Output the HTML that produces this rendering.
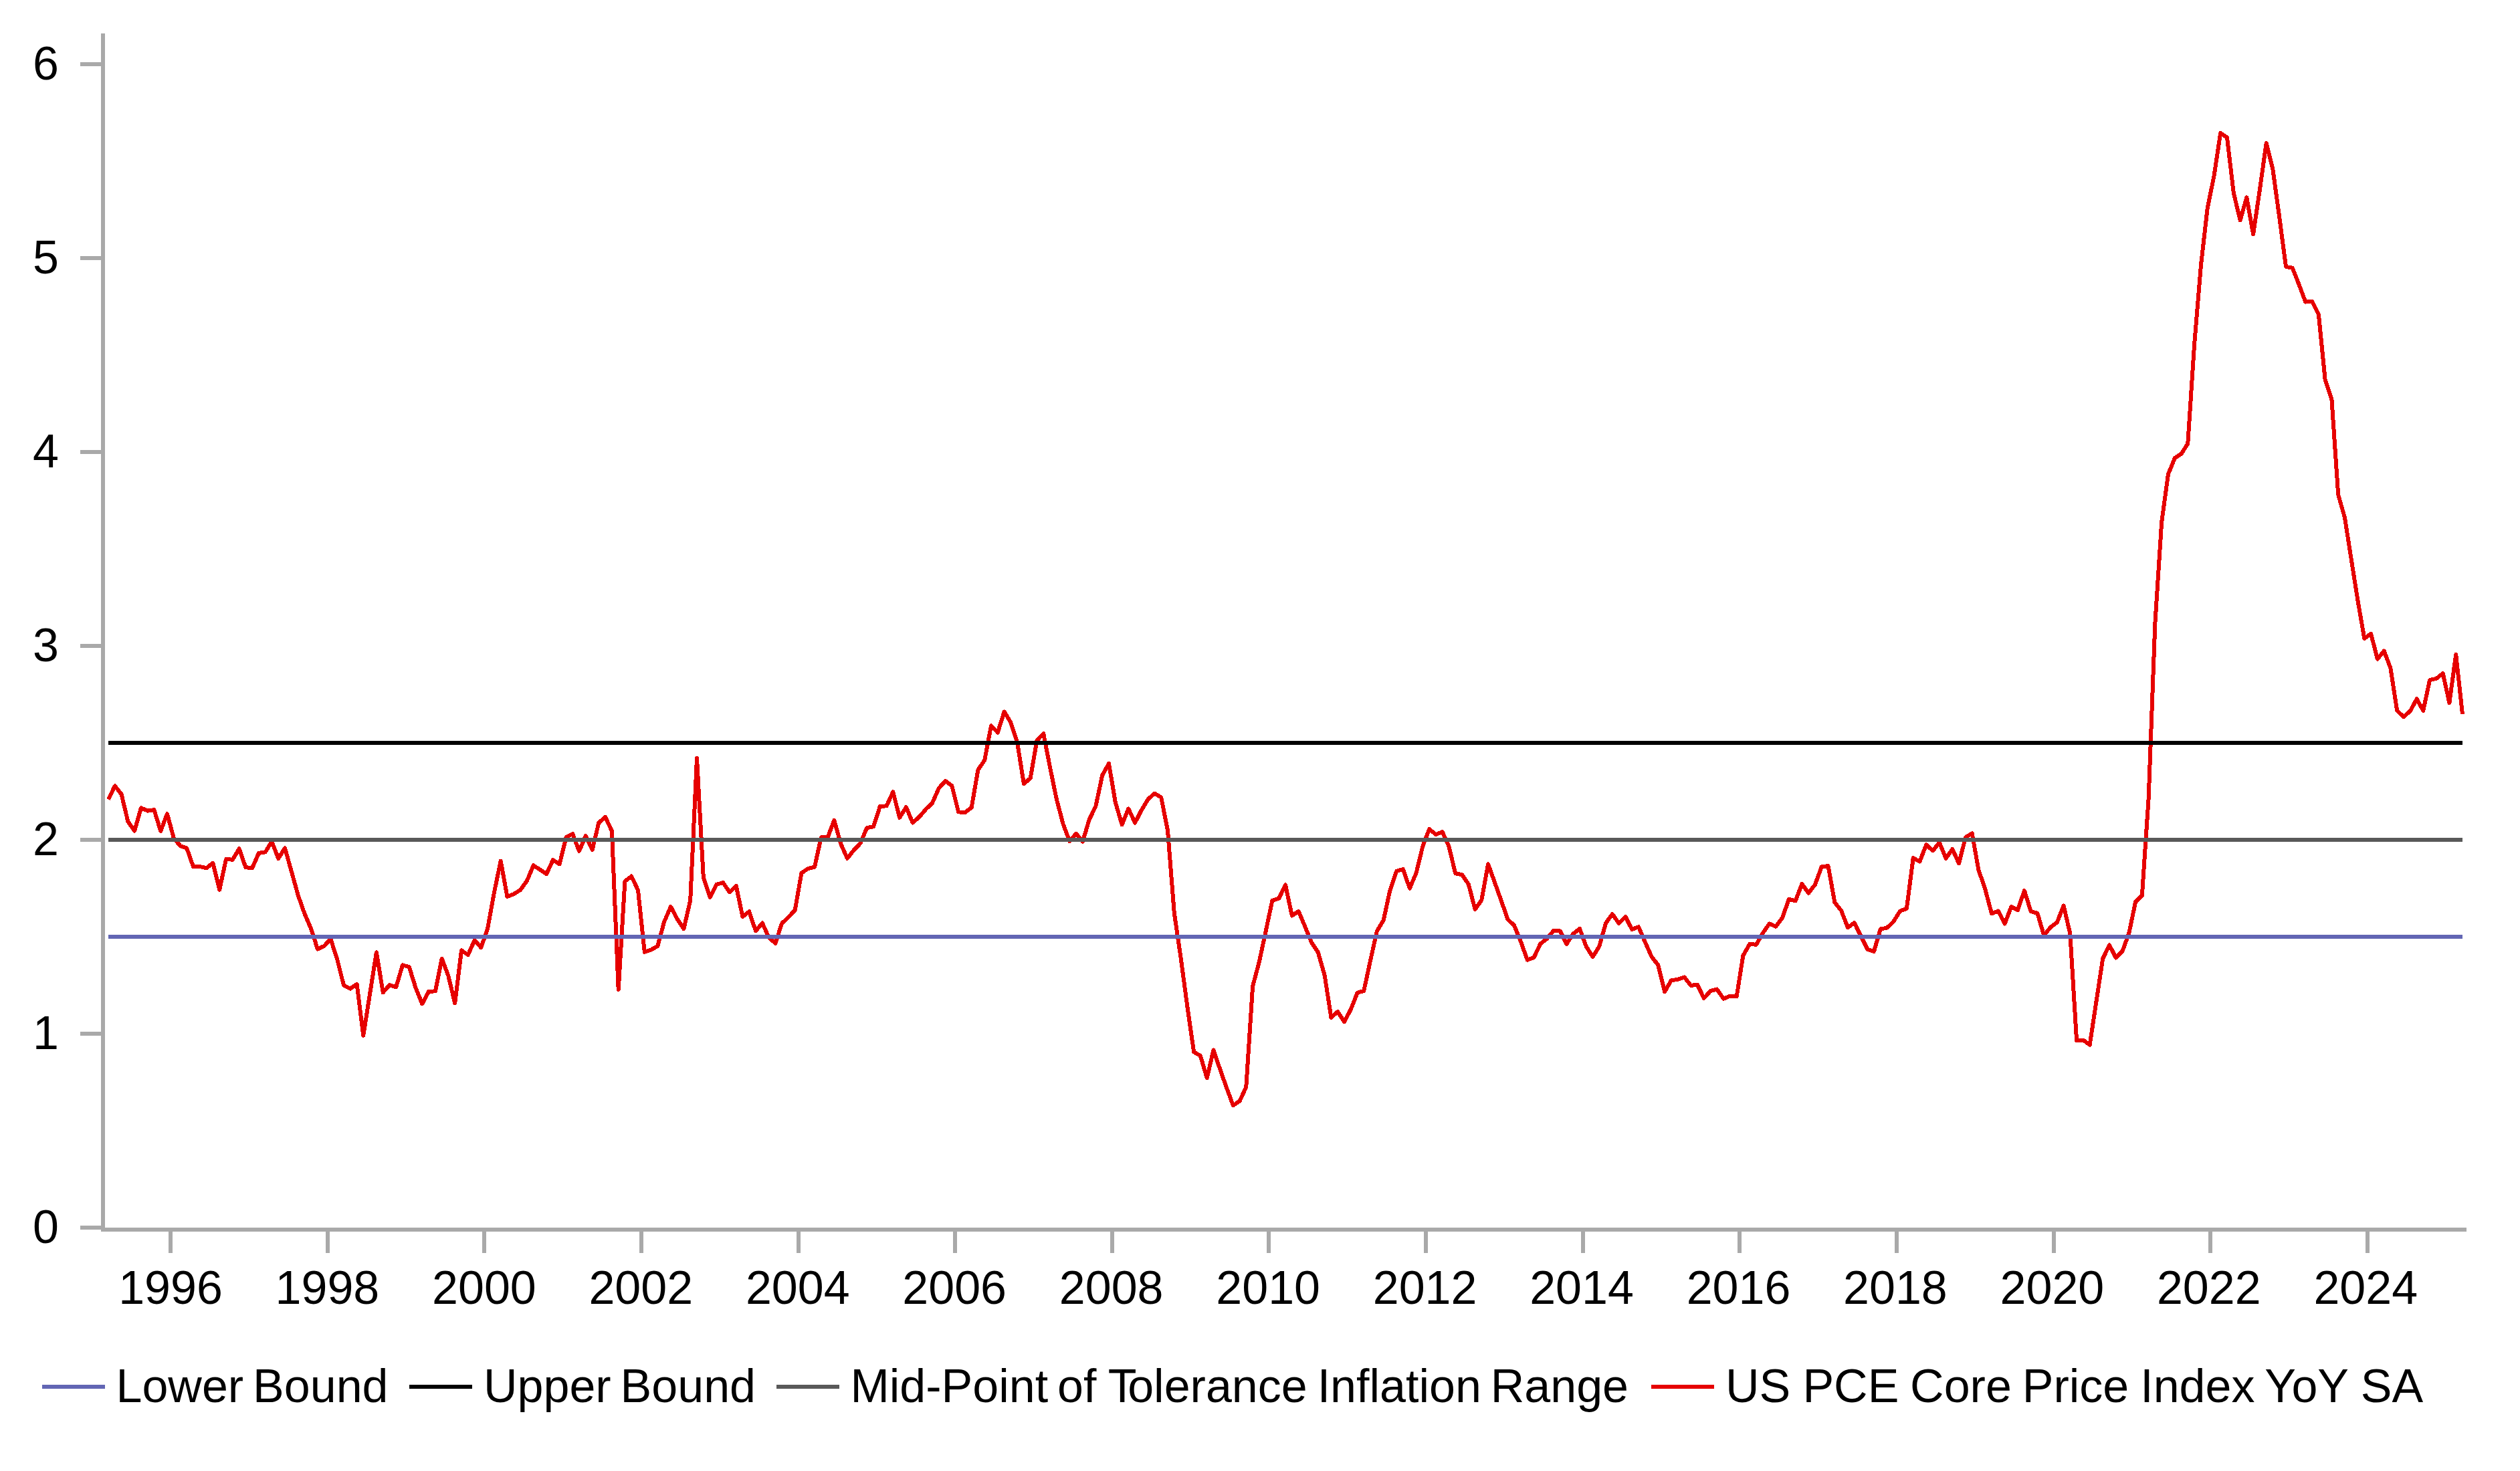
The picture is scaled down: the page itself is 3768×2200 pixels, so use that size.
<!DOCTYPE html>
<html lang="en"><head><meta charset="utf-8"><title>US PCE Core Price Index YoY</title>
<style>html,body{margin:0;padding:0;background:#fff}body{width:3768px;height:2200px;overflow:hidden}svg{display:block}text{word-spacing:-5.5px;font-family:"Liberation Sans",Arial,sans-serif;font-size:70px;fill:#000}</style></head><body>
<svg width="3768" height="2200" viewBox="0 0 3768 2200">
<rect width="3768" height="2200" fill="#fff"/>
<g fill="#a9a9a9" shape-rendering="crispEdges">
<rect x="151" y="50" width="6" height="1792"/>
<rect x="151" y="1836" width="3537" height="6"/>
<rect x="120" y="1833.0" width="31" height="6"/>
<rect x="120" y="1543.0" width="31" height="6"/>
<rect x="120" y="1253.0" width="31" height="6"/>
<rect x="120" y="963.0" width="31" height="6"/>
<rect x="120" y="673.0" width="31" height="6"/>
<rect x="120" y="383.0" width="31" height="6"/>
<rect x="120" y="93.0" width="31" height="6"/>
<rect x="252" y="1842" width="6" height="32"/>
<rect x="487" y="1842" width="6" height="32"/>
<rect x="721" y="1842" width="6" height="32"/>
<rect x="956" y="1842" width="6" height="32"/>
<rect x="1191" y="1842" width="6" height="32"/>
<rect x="1425" y="1842" width="6" height="32"/>
<rect x="1660" y="1842" width="6" height="32"/>
<rect x="1894" y="1842" width="6" height="32"/>
<rect x="2129" y="1842" width="6" height="32"/>
<rect x="2364" y="1842" width="6" height="32"/>
<rect x="2598" y="1842" width="6" height="32"/>
<rect x="2833" y="1842" width="6" height="32"/>
<rect x="3068" y="1842" width="6" height="32"/>
<rect x="3302" y="1842" width="6" height="32"/>
<rect x="3537" y="1842" width="6" height="32"/>
</g>
<g text-anchor="end">
<text x="88" y="1859.2">0</text>
<text x="88" y="1569.2">1</text>
<text x="88" y="1279.1">2</text>
<text x="88" y="989.0">3</text>
<text x="88" y="699.0">4</text>
<text x="88" y="408.9">5</text>
<text x="88" y="118.9">6</text>
</g>
<g text-anchor="middle">
<text x="255.0" y="1949.5">1996</text>
<text x="489.4" y="1949.5">1998</text>
<text x="723.9" y="1949.5">2000</text>
<text x="958.3" y="1949.5">2002</text>
<text x="1192.8" y="1949.5">2004</text>
<text x="1427.2" y="1949.5">2006</text>
<text x="1661.7" y="1949.5">2008</text>
<text x="1896.2" y="1949.5">2010</text>
<text x="2130.6" y="1949.5">2012</text>
<text x="2365.0" y="1949.5">2014</text>
<text x="2599.5" y="1949.5">2016</text>
<text x="2833.9" y="1949.5">2018</text>
<text x="3068.4" y="1949.5">2020</text>
<text x="3302.8" y="1949.5">2022</text>
<text x="3537.3" y="1949.5">2024</text>
</g>
<polyline fill="none" stroke="#e60000" stroke-width="6" stroke-linejoin="round" shape-rendering="crispEdges" points="162.0,1195.7 171.8,1175.4 181.6,1187.9 191.3,1228.6 201.1,1242.6 210.9,1208.3 220.7,1212.6 230.4,1211.1 240.2,1242.9 250.0,1217.1 259.8,1253.6 269.6,1265.0 279.3,1268.6 289.1,1296.4 298.9,1296.0 308.7,1298.3 318.4,1290.7 328.2,1330.7 338.0,1285.0 347.8,1285.7 357.6,1269.3 367.3,1297.1 377.1,1298.3 386.9,1276.0 396.7,1274.3 406.4,1258.6 416.2,1284.0 426.0,1268.3 435.8,1303.3 445.6,1338.6 455.3,1366.2 465.1,1389.0 474.9,1419.5 484.7,1414.8 494.4,1404.3 504.2,1434.8 514.0,1473.8 523.8,1478.6 533.6,1471.9 543.3,1548.7 553.1,1486.2 562.9,1424.3 572.7,1484.3 582.4,1473.2 592.2,1476.3 602.0,1443.3 611.8,1446.2 621.6,1477.6 631.3,1501.4 641.1,1482.8 650.9,1482.4 660.7,1433.8 670.4,1459.5 680.2,1500.5 690.0,1421.4 699.8,1428.1 709.6,1406.2 719.3,1417.2 729.1,1389.0 738.9,1334.8 748.7,1287.6 758.4,1341.0 768.2,1337.1 778.0,1331.0 787.8,1317.6 797.6,1294.3 807.3,1300.5 817.1,1307.1 826.9,1286.2 836.7,1292.4 846.4,1252.4 856.2,1247.1 866.0,1272.9 875.8,1250.0 885.6,1271.0 895.3,1230.5 905.1,1221.9 914.9,1242.9 924.7,1480.0 934.4,1318.1 944.2,1310.5 954.0,1331.4 963.8,1423.9 973.6,1420.4 983.3,1415.0 993.1,1378.7 1002.9,1356.1 1012.7,1374.5 1022.4,1389.4 1032.2,1346.7 1042.0,1133.7 1051.8,1312.4 1061.6,1341.9 1071.3,1322.9 1081.1,1320.0 1090.9,1334.3 1100.7,1324.8 1110.4,1371.0 1120.2,1363.2 1130.0,1392.4 1139.8,1380.5 1149.6,1401.9 1159.3,1410.8 1169.1,1381.1 1178.9,1371.5 1188.7,1361.4 1198.4,1305.7 1208.2,1299.0 1218.0,1296.8 1227.8,1252.4 1237.6,1252.4 1247.3,1226.7 1257.1,1261.9 1266.9,1283.8 1276.7,1271.4 1286.4,1261.3 1296.2,1238.1 1306.0,1236.2 1315.8,1206.1 1325.6,1205.3 1335.3,1184.4 1345.1,1222.9 1354.9,1207.2 1364.7,1230.5 1374.4,1221.9 1384.2,1210.5 1394.0,1201.0 1403.8,1178.7 1413.6,1168.0 1423.3,1175.2 1433.1,1214.3 1442.9,1215.2 1452.7,1207.6 1462.4,1151.4 1472.2,1137.1 1482.0,1085.3 1491.8,1095.6 1501.6,1064.4 1511.3,1080.4 1521.1,1110.5 1530.9,1172.4 1540.7,1163.8 1550.4,1107.6 1560.2,1097.1 1570.0,1147.6 1579.8,1195.2 1589.6,1232.4 1599.3,1258.1 1609.1,1246.7 1618.9,1258.7 1628.7,1225.7 1638.4,1205.7 1648.2,1159.6 1658.0,1141.9 1667.8,1200.0 1677.6,1233.3 1687.3,1209.5 1697.1,1230.5 1706.9,1211.4 1716.7,1195.2 1726.4,1186.7 1736.2,1192.4 1746.0,1241.9 1755.8,1365.7 1765.6,1432.6 1775.3,1505.1 1785.1,1573.3 1794.9,1579.0 1804.7,1612.4 1814.4,1570.5 1824.2,1599.0 1834.0,1626.7 1843.8,1653.3 1853.6,1646.7 1863.3,1625.7 1873.1,1475.2 1882.9,1438.1 1892.7,1392.4 1902.4,1346.7 1912.2,1343.8 1922.0,1323.4 1931.8,1369.5 1941.6,1362.9 1951.3,1385.7 1961.1,1409.5 1970.9,1424.4 1980.7,1459.0 1990.4,1521.9 2000.2,1513.0 2010.0,1528.2 2019.8,1509.5 2029.6,1484.8 2039.3,1481.9 2049.1,1436.2 2058.9,1392.4 2068.7,1376.2 2078.4,1331.4 2088.2,1302.9 2098.0,1300.0 2107.8,1328.6 2117.6,1305.7 2127.3,1265.7 2137.1,1240.0 2146.9,1248.0 2156.7,1244.2 2166.4,1265.7 2176.2,1306.3 2186.0,1308.1 2195.8,1322.4 2205.6,1360.1 2215.3,1346.2 2225.1,1292.3 2234.9,1319.5 2244.7,1347.1 2254.4,1374.8 2264.2,1384.3 2274.0,1408.5 2283.8,1435.7 2293.6,1431.9 2303.3,1411.5 2313.1,1403.9 2322.9,1391.9 2332.7,1392.5 2342.4,1411.9 2352.2,1396.7 2362.0,1389.0 2371.8,1415.7 2381.6,1431.0 2391.3,1415.3 2401.1,1380.5 2410.9,1367.1 2420.7,1381.0 2430.4,1371.0 2440.2,1390.0 2450.0,1386.2 2459.8,1409.0 2469.6,1431.0 2479.3,1443.3 2489.1,1483.3 2498.9,1466.2 2508.7,1464.9 2518.4,1461.4 2528.2,1473.8 2538.0,1472.9 2547.8,1492.9 2557.6,1482.0 2567.3,1479.5 2577.1,1493.8 2586.9,1489.6 2596.7,1490.4 2606.4,1429.0 2616.2,1411.9 2626.0,1412.8 2635.8,1395.6 2645.6,1381.5 2655.3,1385.7 2665.1,1372.4 2674.9,1344.8 2684.7,1347.2 2694.4,1321.9 2704.2,1335.8 2714.0,1322.9 2723.8,1296.2 2733.6,1295.2 2743.3,1349.5 2753.1,1361.9 2762.9,1387.2 2772.7,1380.0 2782.4,1400.0 2792.2,1419.6 2802.0,1422.9 2811.8,1389.5 2821.6,1387.6 2831.3,1378.1 2841.1,1362.5 2850.9,1359.0 2860.7,1283.2 2870.4,1288.6 2880.2,1263.4 2890.0,1272.4 2899.8,1260.0 2909.6,1283.8 2919.3,1269.9 2929.1,1291.4 2938.9,1252.4 2948.7,1246.3 2958.4,1301.0 2968.2,1329.5 2978.0,1366.3 2987.8,1362.5 2997.6,1381.5 3007.3,1356.2 3017.1,1361.0 3026.9,1332.0 3036.7,1363.2 3046.4,1365.7 3056.2,1399.0 3066.0,1386.7 3075.8,1379.5 3085.6,1354.4 3095.3,1396.2 3105.1,1556.5 3114.9,1555.5 3124.7,1562.6 3134.4,1498.4 3144.2,1433.7 3154.0,1413.4 3163.8,1432.4 3173.6,1422.3 3183.3,1395.7 3193.1,1349.0 3202.9,1339.1 3212.7,1193.0 3222.4,931.7 3232.2,780.7 3242.0,709.1 3251.8,685.2 3261.6,678.7 3271.3,663.5 3281.1,515.0 3290.9,397.0 3300.7,311.3 3310.4,263.7 3320.2,199.0 3330.0,205.7 3339.8,288.5 3349.6,329.4 3359.3,295.2 3369.1,350.3 3378.9,283.7 3388.7,213.9 3398.4,253.3 3408.2,324.7 3418.0,398.9 3427.8,400.8 3437.6,425.7 3447.3,451.6 3457.1,450.6 3466.9,470.4 3476.7,568.5 3486.4,597.0 3496.2,739.9 3506.0,774.2 3515.8,837.0 3525.6,899.0 3535.3,955.0 3545.1,947.8 3554.9,985.7 3564.7,973.5 3574.4,999.2 3584.2,1062.8 3594.0,1072.0 3603.8,1063.5 3613.6,1045.3 3623.3,1062.8 3633.1,1017.1 3642.9,1014.9 3652.7,1007.1 3662.4,1051.3 3672.2,978.8 3682.0,1068.2"/>
<line x1="162.0" y1="1401.0" x2="3682.0" y2="1401.0" stroke="#6266b4" stroke-width="6"/>
<line x1="162.0" y1="1111.0" x2="3682.0" y2="1111.0" stroke="#000000" stroke-width="6"/>
<line x1="162.0" y1="1256.0" x2="3682.0" y2="1256.0" stroke="#595959" stroke-width="6"/>
<line shape-rendering="crispEdges" x1="63.0" y1="2074.0" x2="157.0" y2="2074.0" stroke="#6266b4" stroke-width="6"/>
<text x="173.5" y="2096.5">Lower Bound</text>
<line shape-rendering="crispEdges" x1="612.0" y1="2074.0" x2="706.0" y2="2074.0" stroke="#000000" stroke-width="6"/>
<text x="723.0" y="2096.5">Upper Bound</text>
<line shape-rendering="crispEdges" x1="1161.0" y1="2074.0" x2="1255.0" y2="2074.0" stroke="#595959" stroke-width="6"/>
<text x="1271.5" y="2096.5">Mid-Point of <tspan dx="4.7">T</tspan><tspan dx="-5.7">olerance</tspan> <tspan dx="1">Inflation</tspan> Range</text>
<line shape-rendering="crispEdges" x1="2469.0" y1="2074.0" x2="2563.0" y2="2074.0" stroke="#e60000" stroke-width="6"/>
<text x="2580.0" y="2096.5">US <tspan dx="4.2">PCE</tspan> <tspan dx="2.8">Core</tspan> <tspan dx="2">Price</tspan> <tspan dx="3">Index</tspan> <tspan dx="2">YoY</tspan> <tspan dx="5">SA</tspan></text>
</svg></body></html>
